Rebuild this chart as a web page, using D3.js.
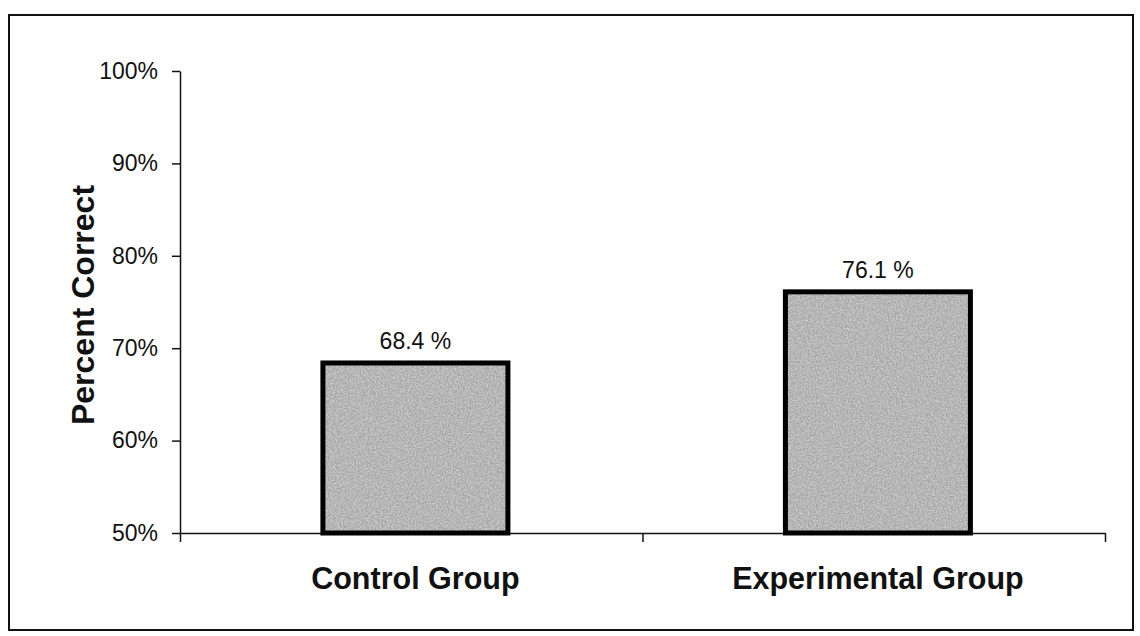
<!DOCTYPE html>
<html>
<head>
<meta charset="utf-8">
<script src="https://cdn.jsdelivr.net/npm/d3@7.9.0/dist/d3.min.js"></script>
<style>
    html, body { margin: 0; padding: 0; background: #fff; }
    svg { display: block; font-family: "Liberation Sans", Arial, sans-serif; }
</style>
</head>
<body>
<div id="chart"></div>
<script>
"use strict";

const categories = ["Control Group", "Experimental Group"];
const percent_correct = [0.684, 0.761];
const value_labels = ["68.4 %", "76.1 %"];
const y_ticks = [0.5, 0.6, 0.7, 0.8, 0.9, 1.0];
const y_title = "Percent Correct";

const width = 1140;
const height = 636;
const plot = { left: 180, right: 1105, top: 71, bottom: 533 };

const svg = d3.select("#chart")
    .append("svg")
    .attr("width", width)
    .attr("height", height);

// Grainy grey fill, like the scanned bars
const defs = svg.append("defs");
const grain = defs.append("filter")
    .attr("id", "grain")
    .attr("x", 0).attr("y", 0).attr("width", 1).attr("height", 1);
grain.append("feTurbulence")
    .attr("type", "fractalNoise")
    .attr("baseFrequency", 0.6)
    .attr("numOctaves", 2)
    .attr("seed", 4)
    .attr("result", "noise");
grain.append("feColorMatrix")
    .attr("in", "noise")
    .attr("type", "matrix")
    .attr("values", "0 0 0 0 0.68  0 0 0 0 0.68  0 0 0 0 0.68  1.6 0 0 0 -0.5")
    .attr("result", "speckle");
grain.append("feComposite")
    .attr("in", "speckle")
    .attr("in2", "SourceGraphic")
    .attr("operator", "in")
    .attr("result", "clipped");
grain.append("feMerge")
    .call((m) => {
        m.append("feMergeNode").attr("in", "SourceGraphic");
        m.append("feMergeNode").attr("in", "clipped");
    });

// Frame round the whole chart
svg.append("rect")
    .attr("x", 9)
    .attr("y", 15)
    .attr("width", 1124)
    .attr("height", 615)
    .attr("fill", "none")
    .attr("stroke", "#111")
    .attr("stroke-width", 2);

// Scales
const x = d3.scaleBand()
    .domain(categories)
    .range([plot.left, plot.right])
    .paddingInner(0.6)
    .paddingOuter(0.3)
    .align(0.515);

const x_edges = d3.scaleLinear()
    .domain([0, categories.length])
    .range([plot.left, plot.right]);

const y = d3.scaleLinear()
    .domain([0.5, 1.0])
    .range([plot.bottom, plot.top]);

// Y axis
const y_axis = svg.append("g")
    .attr("transform", `translate(${plot.left}, 0)`)
    .call(d3.axisLeft(y)
        .tickValues(y_ticks)
        .tickFormat(d3.format(".0%"))
        .tickSize(8)
        .tickSizeOuter(0)
        .tickPadding(14));

y_axis.selectAll("path, line").attr("stroke", "#111").attr("stroke-width", 1.5);
y_axis.selectAll("text")
    .attr("fill", "#111")
    .style("font-size", "23px");

// X axis (ticks between the categories)
const x_axis = svg.append("g")
    .attr("transform", `translate(0, ${plot.bottom})`)
    .call(d3.axisBottom(x_edges)
        .tickValues(d3.range(categories.length + 1))
        .tickFormat("")
        .tickSize(9)
        .tickSizeOuter(0));

x_axis.selectAll("path, line").attr("stroke", "#111").attr("stroke-width", 1.5);

// Bars
const bars = svg.append("g");

bars.selectAll("rect.fill")
    .data(categories)
    .join("rect")
    .attr("class", "fill")
    .attr("x", (d) => x(d))
    .attr("y", (d, i) => y(percent_correct[i]))
    .attr("width", x.bandwidth())
    .attr("height", (d, i) => y(0.5) - y(percent_correct[i]))
    .attr("fill", "#a6a6a6")
    .attr("filter", "url(#grain)");

bars.selectAll("rect.edge")
    .data(categories)
    .join("rect")
    .attr("class", "edge")
    .attr("x", (d) => x(d))
    .attr("y", (d, i) => y(percent_correct[i]))
    .attr("width", x.bandwidth())
    .attr("height", (d, i) => y(0.5) - y(percent_correct[i]))
    .attr("fill", "none")
    .attr("stroke", "#000")
    .attr("stroke-width", 5);

// Value labels above the bars
svg.append("g")
    .selectAll("text")
    .data(categories)
    .join("text")
    .attr("x", (d) => x(d) + x.bandwidth() / 2)
    .attr("y", (d, i) => y(percent_correct[i]) - 14)
    .attr("text-anchor", "middle")
    .attr("fill", "#111")
    .style("font-size", "23px")
    .text((d, i) => value_labels[i]);

// Category labels
svg.append("g")
    .selectAll("text")
    .data(categories)
    .join("text")
    .attr("x", (d) => x(d) + x.bandwidth() / 2)
    .attr("y", 589)
    .attr("text-anchor", "middle")
    .attr("fill", "#111")
    .style("font-size", "30.5px")
    .style("font-weight", "bold")
    .text((d) => d);

// Y axis title
svg.append("text")
    .attr("transform", `translate(94, ${(plot.top + plot.bottom) / 2 + 3}) rotate(-90)`)
    .attr("text-anchor", "middle")
    .attr("fill", "#111")
    .style("font-size", "32px")
    .style("font-weight", "bold")
    .text(y_title);
</script>
</body>
</html>
